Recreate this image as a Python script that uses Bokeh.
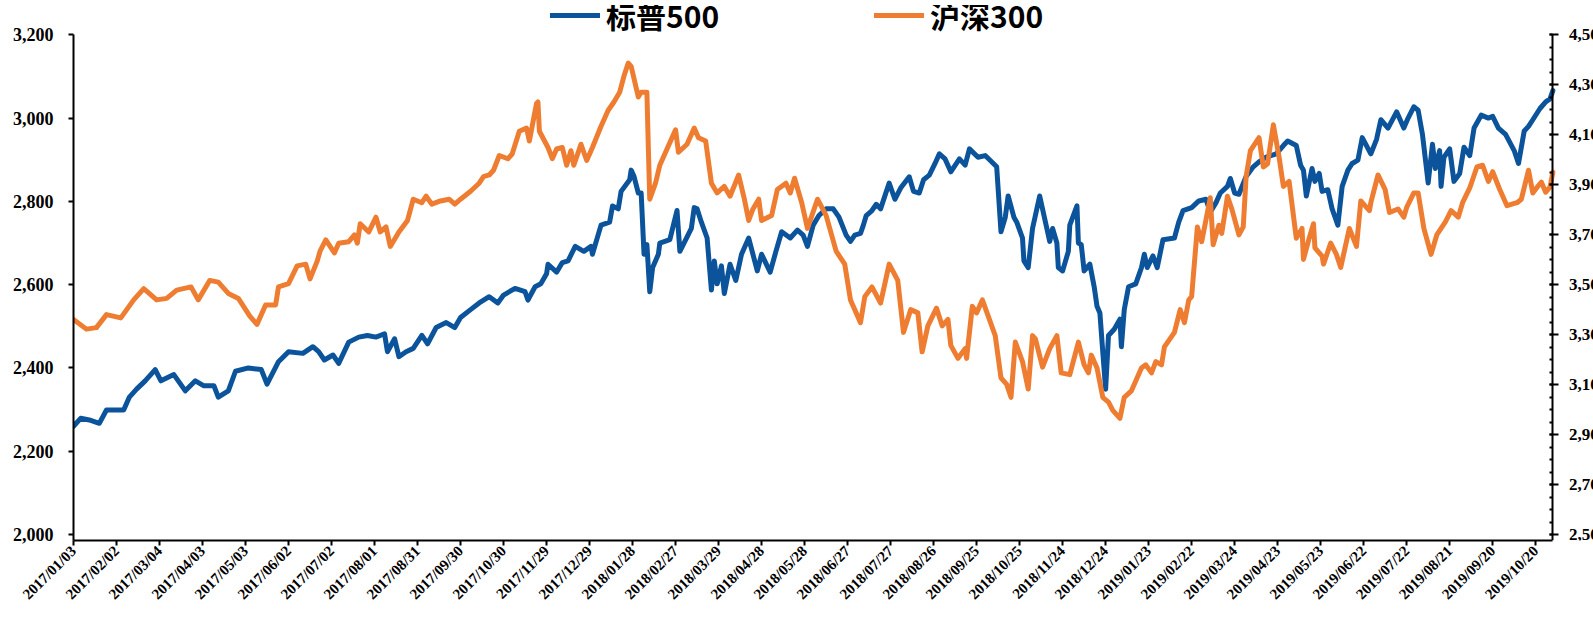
import pandas as pd
from math import pi
from bokeh.plotting import figure
from bokeh.models import (Range1d, LinearAxis, FixedTicker, NumeralTickFormatter,
                          DatetimeTickFormatter, Legend, LegendItem)
from bokeh.embed import file_html
from bokeh.resources import INLINE

# ---------------- data ----------------
sp_dates = [
    "2017-01-03", "2017-01-08", "2017-01-14", "2017-01-21", "2017-01-26", "2017-02-07", "2017-02-11",
    "2017-02-16", "2017-02-22", "2017-03-01", "2017-03-05", "2017-03-14", "2017-03-22", "2017-03-29",
    "2017-04-04", "2017-04-11", "2017-04-14", "2017-04-21", "2017-04-26", "2017-05-05", "2017-05-14",
    "2017-05-18", "2017-05-26", "2017-06-02", "2017-06-12", "2017-06-19", "2017-06-23", "2017-06-27",
    "2017-07-03", "2017-07-07", "2017-07-14", "2017-07-21", "2017-07-27", "2017-08-02", "2017-08-08",
    "2017-08-10", "2017-08-15", "2017-08-18", "2017-08-23", "2017-08-28", "2017-09-03", "2017-09-07",
    "2017-09-13", "2017-09-20", "2017-09-26", "2017-09-30", "2017-10-07", "2017-10-13", "2017-10-20",
    "2017-10-26", "2017-10-30", "2017-11-07", "2017-11-14", "2017-11-16", "2017-11-21", "2017-11-25",
    "2017-11-29", "2017-11-30", "2017-12-06", "2017-12-10", "2017-12-14", "2017-12-19", "2017-12-25",
    "2017-12-30", "2017-12-31",
    "2018-01-06", "2018-01-12", "2018-01-14", "2018-01-18", "2018-01-20", "2018-01-26", "2018-01-27",
    "2018-01-29", "2018-02-01", "2018-02-03", "2018-02-05", "2018-02-07", "2018-02-09", "2018-02-11",
    "2018-02-15", "2018-02-16", "2018-02-23", "2018-02-26", "2018-02-28", "2018-03-02", "2018-03-10",
    "2018-03-12", "2018-03-14", "2018-03-17", "2018-03-21", "2018-03-24", "2018-03-26", "2018-03-28",
    "2018-03-31", "2018-04-02", "2018-04-06", "2018-04-10", "2018-04-14", "2018-04-19", "2018-04-25",
    "2018-04-28", "2018-05-04", "2018-05-08", "2018-05-12", "2018-05-18", "2018-05-23", "2018-05-27",
    "2018-05-30", "2018-06-03", "2018-06-07", "2018-06-12", "2018-06-17", "2018-06-21", "2018-06-26",
    "2018-06-29", "2018-07-02", "2018-07-06", "2018-07-08", "2018-07-10", "2018-07-14", "2018-07-17",
    "2018-07-20", "2018-07-26", "2018-07-30", "2018-08-03", "2018-08-09", "2018-08-12", "2018-08-16",
    "2018-08-19", "2018-08-23", "2018-08-27", "2018-08-30", "2018-09-03", "2018-09-07", "2018-09-13",
    "2018-09-17", "2018-09-20", "2018-09-26", "2018-10-01", "2018-10-09", "2018-10-12", "2018-10-15",
    "2018-10-17", "2018-10-21", "2018-10-23", "2018-10-27", "2018-10-28", "2018-10-31", "2018-11-03",
    "2018-11-08", "2018-11-13", "2018-11-15", "2018-11-17", "2018-11-20", "2018-11-21", "2018-11-24",
    "2018-11-28", "2018-11-29", "2018-12-04", "2018-12-05", "2018-12-07", "2018-12-09", "2018-12-13",
    "2018-12-16", "2018-12-18", "2018-12-20", "2018-12-22", "2018-12-24", "2018-12-26", "2018-12-30",
    "2019-01-03", "2019-01-04", "2019-01-06", "2019-01-09", "2019-01-14", "2019-01-18", "2019-01-20",
    "2019-01-22", "2019-01-26", "2019-01-29", "2019-02-02", "2019-02-10", "2019-02-13", "2019-02-16",
    "2019-02-22", "2019-02-27", "2019-03-04", "2019-03-07", "2019-03-11", "2019-03-14", "2019-03-19",
    "2019-03-21", "2019-03-24", "2019-03-27", "2019-04-01", "2019-04-06", "2019-04-10", "2019-04-15",
    "2019-04-22", "2019-04-27", "2019-04-30", "2019-05-06", "2019-05-09", "2019-05-11", "2019-05-13",
    "2019-05-17", "2019-05-19", "2019-05-22", "2019-05-24", "2019-05-28", "2019-05-31", "2019-06-04",
    "2019-06-07", "2019-06-11", "2019-06-14", "2019-06-18", "2019-06-21", "2019-06-27", "2019-07-01",
    "2019-07-04", "2019-07-09", "2019-07-15", "2019-07-20", "2019-07-23", "2019-07-27", "2019-07-30",
    "2019-08-02", "2019-08-06", "2019-08-09", "2019-08-11", "2019-08-14", "2019-08-15", "2019-08-17",
    "2019-08-21", "2019-08-24", "2019-08-28", "2019-08-31", "2019-09-04", "2019-09-07", "2019-09-12",
    "2019-09-17", "2019-09-20", "2019-09-24", "2019-09-29", "2019-10-05", "2019-10-08", "2019-10-12",
    "2019-10-15", "2019-10-18", "2019-10-23", "2019-10-27", "2019-10-30", "2019-11-01",
]
sp_values = [
    2260, 2279, 2275, 2267, 2299, 2299, 2330,
    2349, 2369, 2396, 2369, 2384, 2345, 2369,
    2357, 2357, 2330, 2345, 2392, 2400, 2396,
    2361, 2415, 2439, 2435, 2451, 2439, 2419,
    2431, 2411, 2462, 2474, 2478, 2474, 2482,
    2439, 2470, 2427, 2439, 2447, 2478, 2458,
    2497, 2509, 2497, 2521, 2540, 2556, 2571,
    2556, 2575, 2591, 2583, 2563, 2595, 2602,
    2626, 2649, 2630, 2653, 2657, 2692, 2680,
    2692, 2673,
    2743, 2750, 2789, 2782, 2824, 2852, 2875,
    2860, 2820, 2820, 2673, 2696, 2583, 2641,
    2673, 2700, 2708, 2750, 2778, 2680, 2735,
    2785, 2782, 2750, 2712, 2587, 2657, 2602,
    2645, 2579, 2649, 2610, 2673, 2712, 2633,
    2673, 2630, 2680, 2727, 2712, 2731, 2719,
    2692, 2743, 2766, 2782, 2782, 2762, 2719,
    2704, 2719, 2723, 2743, 2766, 2778, 2793,
    2782, 2844, 2805, 2832, 2859, 2824, 2820,
    2852, 2863, 2891, 2914, 2902, 2871, 2902,
    2887, 2926, 2906, 2910, 2883, 2727, 2762,
    2813, 2762, 2750, 2712, 2657, 2641, 2735,
    2813, 2735, 2704, 2735, 2700, 2641, 2633,
    2680, 2743, 2789, 2700, 2696, 2633, 2649,
    2595, 2548, 2532, 2439, 2349, 2478, 2493,
    2517, 2451, 2540, 2595, 2602, 2641, 2673,
    2641, 2669, 2641, 2708, 2712, 2750, 2778,
    2785, 2801, 2805, 2774, 2797, 2820, 2836,
    2855, 2820, 2817, 2860, 2883, 2895, 2906,
    2914, 2934, 2945, 2934, 2887, 2875, 2813,
    2879, 2848, 2867, 2824, 2828, 2782, 2743,
    2836, 2875, 2891, 2899, 2953, 2914, 2949,
    2996, 2976, 3015, 2976, 3000, 3027, 3019,
    2961, 2844, 2937, 2879, 2922, 2836, 2906,
    2926, 2848, 2867, 2930, 2910, 2976, 3007,
    3000, 3004, 2976, 2961, 2922, 2891, 2969,
    2980, 2996, 3023, 3039, 3046, 3066,
]

hs_dates = [
    "2017-01-03", "2017-01-12", "2017-01-19", "2017-01-26", "2017-02-05", "2017-02-14", "2017-02-21",
    "2017-03-02", "2017-03-09", "2017-03-16", "2017-03-26", "2017-03-31", "2017-04-08", "2017-04-14",
    "2017-04-21", "2017-04-28", "2017-05-06", "2017-05-11", "2017-05-17", "2017-05-24", "2017-05-26",
    "2017-06-02", "2017-06-08", "2017-06-14", "2017-06-17", "2017-06-22", "2017-06-24", "2017-06-28",
    "2017-07-04", "2017-07-07", "2017-07-14", "2017-07-18", "2017-07-20", "2017-07-22", "2017-07-28",
    "2017-08-02", "2017-08-05", "2017-08-09", "2017-08-12", "2017-08-18", "2017-08-24", "2017-08-28",
    "2017-09-03", "2017-09-06", "2017-09-10", "2017-09-16", "2017-09-22", "2017-09-26", "2017-09-30",
    "2017-10-07", "2017-10-13", "2017-10-16", "2017-10-20", "2017-10-23", "2017-10-27", "2017-11-02",
    "2017-11-05", "2017-11-10", "2017-11-15", "2017-11-17", "2017-11-22", "2017-11-23", "2017-11-24",
    "2017-11-30", "2017-12-03", "2017-12-06", "2017-12-10", "2017-12-13", "2017-12-16", "2017-12-18",
    "2017-12-23", "2017-12-27", "2017-12-31",
    "2018-01-06", "2018-01-11", "2018-01-15", "2018-01-19", "2018-01-22", "2018-01-25", "2018-01-27",
    "2018-02-01", "2018-02-03", "2018-02-07", "2018-02-08", "2018-02-09", "2018-02-13", "2018-02-16",
    "2018-02-27", "2018-03-01", "2018-03-07", "2018-03-12", "2018-03-15", "2018-03-20", "2018-03-24",
    "2018-03-28", "2018-04-02", "2018-04-06", "2018-04-12", "2018-04-16", "2018-04-19", "2018-04-22",
    "2018-04-26", "2018-04-28", "2018-05-05", "2018-05-09", "2018-05-15", "2018-05-18", "2018-05-21",
    "2018-05-26", "2018-05-30", "2018-06-06", "2018-06-12", "2018-06-19", "2018-06-25", "2018-06-29",
    "2018-07-06", "2018-07-09", "2018-07-14", "2018-07-20", "2018-07-26", "2018-08-01", "2018-08-05",
    "2018-08-10", "2018-08-15", "2018-08-18", "2018-08-22", "2018-08-28", "2018-09-01", "2018-09-05",
    "2018-09-07", "2018-09-12", "2018-09-17", "2018-09-18", "2018-09-22", "2018-09-25", "2018-09-29",
    "2018-10-08", "2018-10-12", "2018-10-16", "2018-10-19", "2018-10-22", "2018-10-27", "2018-10-31",
    "2018-11-03", "2018-11-05", "2018-11-10", "2018-11-15", "2018-11-20", "2018-11-23", "2018-11-29",
    "2018-12-05", "2018-12-09", "2018-12-12", "2018-12-14", "2018-12-18", "2018-12-22", "2018-12-26",
    "2018-12-29",
    "2019-01-03", "2019-01-06", "2019-01-11", "2019-01-15", "2019-01-18", "2019-01-21", "2019-01-25",
    "2019-01-28", "2019-02-01", "2019-02-03", "2019-02-10", "2019-02-14", "2019-02-17", "2019-02-20",
    "2019-02-22", "2019-02-26", "2019-03-01", "2019-03-05", "2019-03-07", "2019-03-09", "2019-03-13",
    "2019-03-15", "2019-03-19", "2019-03-22", "2019-03-27", "2019-03-30", "2019-04-01", "2019-04-04",
    "2019-04-10", "2019-04-13", "2019-04-16", "2019-04-20", "2019-04-24", "2019-04-27", "2019-05-01",
    "2019-05-06", "2019-05-10", "2019-05-11", "2019-05-15", "2019-05-18", "2019-05-19", "2019-05-24",
    "2019-05-25", "2019-05-30", "2019-06-03", "2019-06-06", "2019-06-12", "2019-06-17", "2019-06-20",
    "2019-06-26", "2019-06-27", "2019-07-02", "2019-07-07", "2019-07-10", "2019-07-16", "2019-07-20",
    "2019-07-22", "2019-07-27", "2019-07-30", "2019-08-03", "2019-08-08", "2019-08-12", "2019-08-18",
    "2019-08-22", "2019-08-27", "2019-08-30", "2019-09-04", "2019-09-09", "2019-09-13", "2019-09-17",
    "2019-09-20", "2019-09-25", "2019-09-30", "2019-10-07", "2019-10-10", "2019-10-15", "2019-10-18",
    "2019-10-21", "2019-10-24", "2019-10-27", "2019-10-30", "2019-11-01",
]
hs_values = [
    3361, 3322, 3328, 3380, 3367, 3439, 3484,
    3439, 3445, 3478, 3491, 3439, 3517, 3510,
    3465, 3445, 3374, 3341, 3419, 3419, 3491,
    3504, 3575, 3582, 3523, 3594, 3634, 3679,
    3627, 3666, 3672, 3699, 3666, 3744, 3711,
    3770, 3711, 3731, 3653, 3711, 3757, 3842,
    3828, 3854, 3822, 3835, 3842, 3822, 3842,
    3874, 3906, 3932, 3939, 3958, 4017, 4004,
    4023, 4114, 4127, 4075, 4225, 4231, 4114,
    4049, 4004, 4043, 4049, 3978, 4036, 3978,
    4062, 3997, 4049,
    4134, 4198, 4231, 4270, 4335, 4387, 4374,
    4251, 4270, 4270, 4049, 3842, 3906, 3978,
    4120, 4030, 4062, 4127, 4088, 4075, 3906,
    3867, 3893, 3854, 3939, 3842, 3757, 3803,
    3842, 3757, 3777, 3881, 3906, 3867, 3926,
    3828, 3725, 3842, 3777, 3634, 3582, 3439,
    3348, 3452, 3491, 3426, 3582, 3517, 3309,
    3400, 3387, 3231, 3335, 3406, 3335, 3361,
    3257, 3205, 3244, 3205, 3413, 3387, 3439,
    3296, 3127, 3101, 3049, 3270, 3192, 3082,
    3296, 3283, 3170, 3244, 3296, 3147, 3140,
    3270, 3179, 3147, 3218, 3166, 3049, 3030,
    2997,
    2965, 3049, 3075, 3127, 3166, 3179, 3147,
    3192, 3179, 3251, 3309, 3400, 3348, 3439,
    3452, 3731, 3672, 3789, 3848, 3660, 3738,
    3705, 3854, 3803, 3699, 3731, 3932, 4036,
    4088, 3971, 3984, 4140, 4010, 3893, 3913,
    3686, 3725, 3601, 3686, 3744, 3647, 3614,
    3582, 3666, 3621, 3569, 3725, 3653, 3835,
    3796, 3828, 3939, 3880, 3789, 3803, 3770,
    3809, 3867, 3867, 3725, 3621, 3699, 3751,
    3796, 3770, 3828, 3887, 3971, 3978, 3913,
    3952, 3880, 3816, 3828, 3842, 3958, 3867,
    3890, 3910, 3870, 3890, 3950,
]

series_names = ["标普500", "沪深300"]
series_colors = ["#0B539B", "#EE7D31"]
x_start, x_end = "2017-01-03", "2019-11-01"
x_tick_dates = list(pd.date_range("2017-01-03", "2019-10-20", freq="30D"))
left_ticks = [2000, 2200, 2400, 2600, 2800, 3000, 3200]
right_ticks = [2500, 2700, 2900, 3100, 3300, 3500, 3700, 3900, 4100, 4300, 4500]
right_minor_ticks = list(range(2500, 4501, 50))

# ---------------- layout geometry (pixels) ----------------
W, H = 1593, 631
LEFT, TOP, BOTTOM = 73, 5, 91            # canvas borders around the frame
RIGHT_RESERVED = 23                       # space bokeh keeps at the right edge
AXIS_TOP_PX, AXIS_RIGHT_PX = 34.3, 1530   # where the value axes end
BOTTOM_GAP = 6                            # room under the lowest value tick
frame_h = H - TOP - BOTTOM
frame_w = W - LEFT - RIGHT_RESERVED
span_px = frame_h - (AXIS_TOP_PX - TOP) - BOTTOM_GAP
top_frac = (AXIS_TOP_PX - TOP) / span_px
bot_frac = BOTTOM_GAP / span_px
x_extra = (LEFT + frame_w - AXIS_RIGHT_PX) / (AXIS_RIGHT_PX - LEFT)

x0, x1 = pd.Timestamp(x_start), pd.Timestamp(x_end)
x_frame_end = x1 + (x1 - x0) * x_extra
l0, l1 = left_ticks[0], left_ticks[-1]
r0, r1 = right_ticks[0], right_ticks[-1]
l_lo, l_hi = l0 - (l1 - l0) * bot_frac, l1 + (l1 - l0) * top_frac
r_lo, r_hi = r0 - (r1 - r0) * bot_frac, r1 + (r1 - r0) * top_frac

p = figure(width=W, height=H, x_axis_type="datetime",
           x_range=Range1d(x0, x_frame_end),
           y_range=Range1d(l_lo, l_hi),
           output_backend="svg", toolbar_location=None,
           min_border_left=LEFT, min_border_right=0, min_border_top=TOP,
           min_border_bottom=BOTTOM,
           background_fill_color="white", border_fill_color="white")
p.extra_y_ranges = {"hs": Range1d(r_lo, r_hi)}
p.outline_line_color = None
p.grid.visible = False

r_sp = p.line(pd.to_datetime(sp_dates), sp_values, line_color=series_colors[0],
              line_width=5, line_join="round", line_cap="round")
r_hs = p.line(pd.to_datetime(hs_dates), hs_values, line_color=series_colors[1],
              line_width=5, line_join="round", line_cap="round", y_range_name="hs")

tick_font = "Liberation Serif"

# x axis
xa = p.xaxis[0]
xa.ticker = FixedTicker(ticks=[d.timestamp() * 1000 for d in x_tick_dates])
fmt = "%Y/%m/%d"
xa.formatter = DatetimeTickFormatter(milliseconds=fmt, seconds=fmt, minsec=fmt, minutes=fmt,
                                     hourmin=fmt, hours=fmt, days=fmt, months=fmt, years=fmt)
xa.bounds = (x0.to_pydatetime(), x1.to_pydatetime())
xa.major_label_orientation = pi / 4
xa.major_label_text_font = tick_font
xa.major_label_text_font_style = "bold"
xa.major_label_text_font_size = "15px"
xa.major_label_text_color = "black"
xa.major_label_standoff = 3
xa.axis_line_width = 2
xa.axis_line_color = "black"
xa.major_tick_line_width = 2
xa.major_tick_out = 5
xa.major_tick_in = 0
xa.minor_tick_line_color = None

# left axis
ya = p.yaxis[0]
ya.ticker = FixedTicker(ticks=left_ticks)
ya.formatter = NumeralTickFormatter(format="0,0")
ya.bounds = (l_lo, l1)
ya.major_label_text_font = tick_font
ya.major_label_text_font_style = "bold"
ya.major_label_text_font_size = "18px"
ya.major_label_text_color = "black"
ya.major_label_standoff = 15
ya.axis_line_width = 2
ya.major_tick_line_width = 2
ya.major_tick_out = 5
ya.major_tick_in = 0
ya.minor_tick_line_color = None

# right axis, pinned at the last date
ra = LinearAxis(y_range_name="hs", axis_label=None,
                fixed_location=x1.timestamp() * 1000, bounds=(r_lo, r1),
                ticker=FixedTicker(ticks=right_ticks, minor_ticks=right_minor_ticks),
                formatter=NumeralTickFormatter(format="0,0"))
ra.major_label_text_font = tick_font
ra.major_label_text_font_style = "bold"
ra.major_label_text_font_size = "17px"
ra.major_label_text_color = "black"
ra.major_label_standoff = 10
ra.axis_line_width = 2
ra.major_tick_line_width = 2
ra.major_tick_out = 6
ra.major_tick_in = 3
ra.minor_tick_line_width = 2
ra.minor_tick_out = 0
ra.minor_tick_in = 3
p.add_layout(ra, "right")

legend = Legend(items=[LegendItem(label=series_names[0], renderers=[r_sp]),
                       LegendItem(label=series_names[1], renderers=[r_hs])],
                orientation="horizontal", location=(477, frame_h - 32),
                label_text_font="Noto Sans CJK SC", label_text_font_style="bold",
                label_text_font_size="30px", label_text_color="black",
                glyph_width=50, glyph_height=30, label_height=30, label_standoff=6,
                spacing=155, padding=2, margin=0,
                background_fill_alpha=0, border_line_color=None)
p.add_layout(legend)

open("out.html", "w").write(file_html(p, INLINE))
